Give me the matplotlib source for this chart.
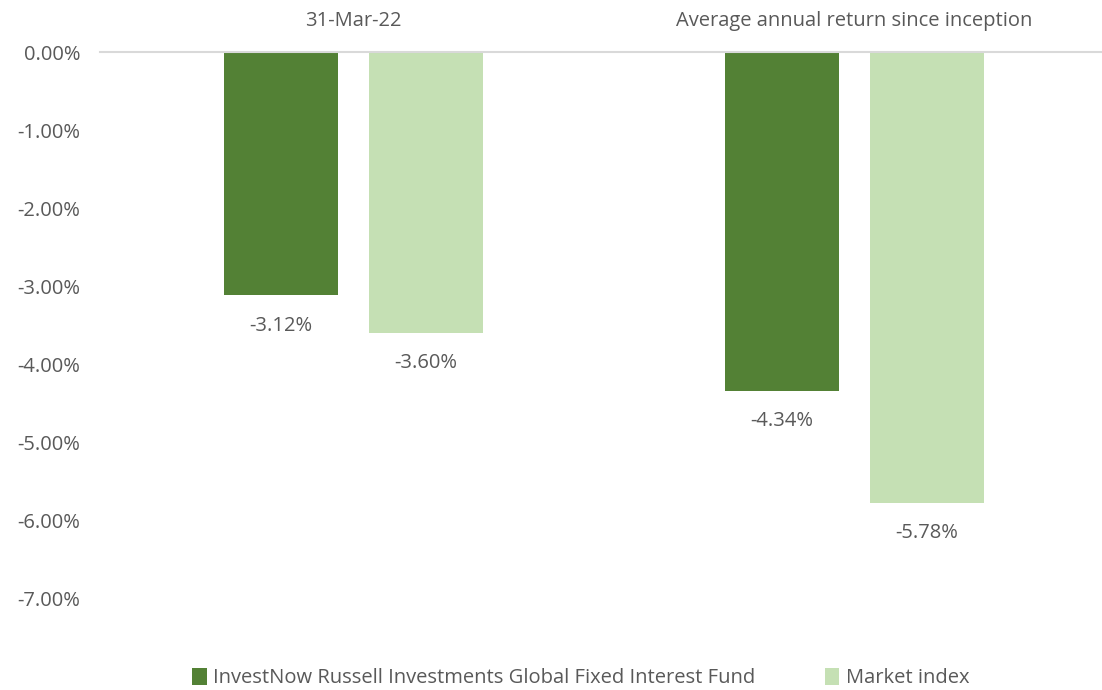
import matplotlib.pyplot as plt
import numpy as np
from matplotlib.ticker import FuncFormatter

plt.rcParams['font.family'] = ['Open Sans', 'DejaVu Sans']

categories = ['31-Mar-22', 'Average annual return since inception']
series_names = ['InvestNow Russell Investments Global Fixed Interest Fund', 'Market index']
fund = [-3.12, -4.34]
index = [-3.60, -5.78]
colors = ['#538135', '#C5E0B4']
txt = '#595959'
fs = 14.5

fig = plt.figure(figsize=(11.02, 6.90), dpi=100)
ax = fig.add_axes([100 / 1102, 1 - 598 / 690, 1002 / 1102, 546 / 690])

x = np.arange(len(categories))
w = 0.228
gap = 0.062
b1 = ax.bar(x - (w + gap) / 2, fund, w, color=colors[0], label=series_names[0])
b2 = ax.bar(x + (w + gap) / 2, index, w, color=colors[1], label=series_names[1])

for bars, vals in [(b1, fund), (b2, index)]:
    for r, v in zip(bars, vals):
        ax.annotate('%.2f%%' % v, (r.get_x() + r.get_width() / 2, v),
                    xytext=(0, -22), textcoords='offset points',
                    ha='center', va='center', fontsize=fs, color=txt)

for xi, c in zip(x, categories):
    ax.annotate(c, (xi, 0), xytext=(0, 22), textcoords='offset points',
                ha='center', va='center', fontsize=fs, color=txt)

ax.set_xlim(-0.506, 1.494)
ax.set_ylim(-7, 0)
ax.set_yticks(np.arange(-7, 0.5, 1))
ax.yaxis.set_major_formatter(FuncFormatter(lambda v, p: '%.2f%%' % v))
ax.tick_params(axis='y', length=0, labelsize=fs, labelcolor=txt, pad=14)
ax.set_xticks([])
for s in ['left', 'right', 'bottom']:
    ax.spines[s].set_visible(False)
ax.spines['top'].set_color('#D9D9D9')
ax.spines['top'].set_linewidth(1.5)

fig.legend(loc='center', bbox_to_anchor=(0.527, 1 - 678 / 690), ncol=2,
           frameon=False, fontsize=fs, labelcolor=txt, handlelength=0.7,
           handleheight=0.9, handletextpad=0.3, columnspacing=3.5)

plt.savefig('out.png', dpi=100)
